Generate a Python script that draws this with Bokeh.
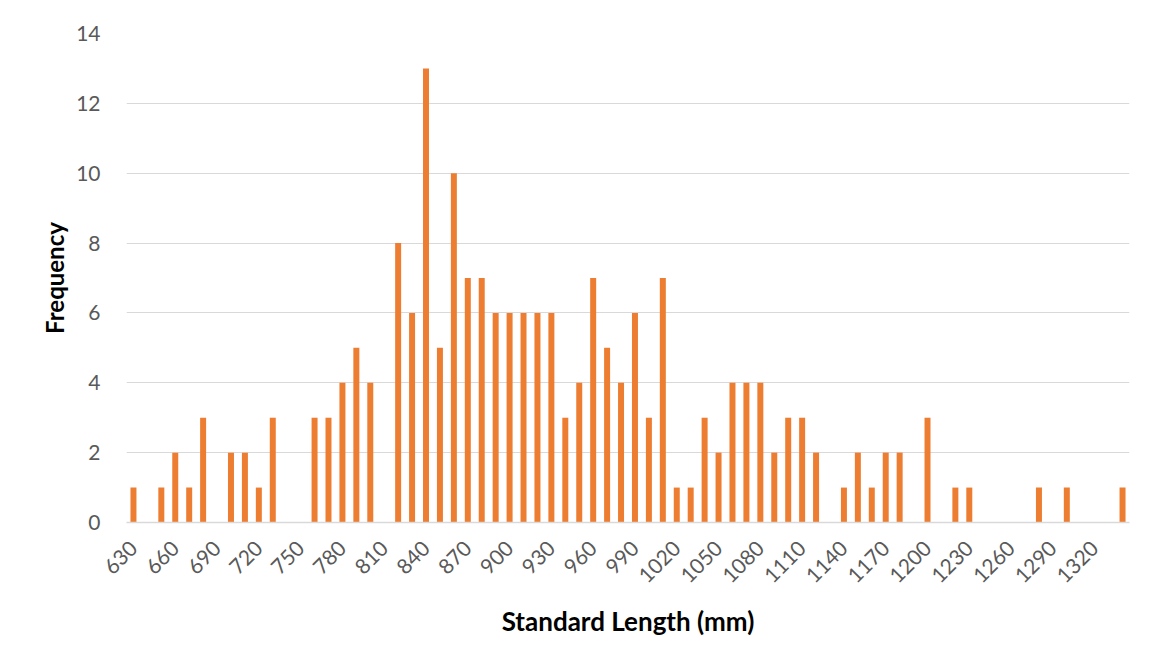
import math
from bokeh.plotting import figure
from bokeh.models import Range1d, FixedTicker, ColumnDataSource
from bokeh.embed import file_html
from bokeh.resources import INLINE

# Standard length bins (mm) and frequencies
lengths = [630, 640, 650, 660, 670, 680, 690, 700, 710, 720, 730, 740,
           750, 760, 770, 780, 790, 800, 810, 820, 830, 840, 850, 860,
           870, 880, 890, 900, 910, 920, 930, 940, 950, 960, 970, 980,
           990, 1000, 1010, 1020, 1030, 1040, 1050, 1060, 1070, 1080, 1090, 1100,
           1110, 1120, 1130, 1140, 1150, 1160, 1170, 1180, 1190, 1200, 1210, 1220,
           1230, 1240, 1250, 1260, 1270, 1280, 1290, 1300, 1310, 1320, 1330, 1340]
frequency = [1, 0, 1, 2, 1, 3, 0, 2, 2, 1, 3, 0,
             0, 3, 3, 4, 5, 4, 0, 8, 6, 13, 5, 10,
             7, 7, 6, 6, 6, 6, 6, 3, 4, 7, 5, 4,
             6, 3, 7, 1, 1, 3, 2, 4, 4, 4, 2, 3,
             3, 2, 0, 1, 2, 1, 2, 2, 0, 3, 0, 1,
             1, 0, 0, 0, 0, 1, 0, 1, 0, 0, 0, 1]
tick_lengths = [630, 660, 690, 720, 750, 780, 810, 840, 870, 900, 930, 960,
                990, 1020, 1050, 1080, 1110, 1140, 1170, 1200, 1230, 1260, 1290, 1320]
y_ticks = [0, 2, 4, 6, 8, 10, 12, 14]

source = ColumnDataSource(data=dict(length=lengths, freq=frequency))

FONT = "Lato"

p = figure(width=1150, height=648, output_backend="svg", toolbar_location=None,
           x_range=Range1d(625, 1345), y_range=Range1d(0, 14),
           min_border_left=126, min_border_right=21, min_border_top=33,
           min_border_bottom=126, background_fill_color="white",
           border_fill_color="white")
p.outline_line_color = None

p.vbar(x="length", top="freq", width=4.3, source=source,
       fill_color="#ED7D31", line_color=None)

# grid
p.xgrid.grid_line_color = None
p.ygrid.grid_line_color = "#d9d9d9"
p.ygrid.grid_line_width = 1.2
p.yaxis.ticker = FixedTicker(ticks=y_ticks)
p.xaxis.ticker = FixedTicker(ticks=tick_lengths)

# y axis
p.yaxis.axis_line_color = None
p.yaxis.major_tick_line_color = None
p.yaxis.minor_tick_line_color = None
p.yaxis.major_label_text_font = FONT
p.yaxis.major_label_text_font_size = "21px"
p.yaxis.major_label_text_color = "#595959"
p.yaxis.major_label_standoff = 20
p.yaxis.axis_label = "Frequency"
p.yaxis.axis_label_text_font = FONT
p.yaxis.axis_label_text_font_style = "bold"
p.yaxis.axis_label_text_font_size = "24px"
p.yaxis.axis_label_text_color = "black"
p.yaxis.axis_label_standoff = 4

# x axis
p.xaxis.axis_line_color = "#d9d9d9"
p.xaxis.axis_line_width = 1.5
p.xaxis.major_tick_line_color = None
p.xaxis.minor_tick_line_color = None
p.xaxis.major_label_orientation = math.pi / 4
p.xaxis.major_label_text_font = FONT
p.xaxis.major_label_text_font_size = "21px"
p.xaxis.major_label_text_color = "#595959"
p.xaxis.major_label_standoff = 16
p.xaxis.axis_label = "Standard Length (mm)"
p.xaxis.axis_label_text_font = FONT
p.xaxis.axis_label_text_font_style = "bold"
p.xaxis.axis_label_text_font_size = "26px"
p.xaxis.axis_label_text_color = "black"
p.xaxis.axis_label_standoff = 12

open("out.html", "w").write(file_html(p, INLINE))
